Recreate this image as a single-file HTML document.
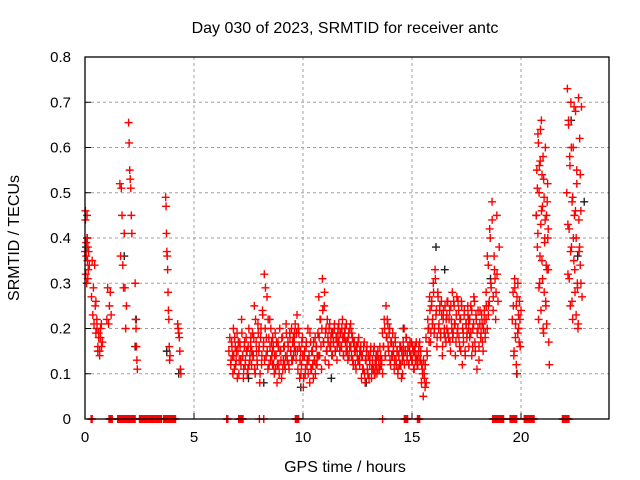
<!DOCTYPE html>
<html><head><meta charset="utf-8"><style>
body{margin:0;background:#fff}
svg{display:block;font-family:"Liberation Sans",sans-serif}
</style></head><body>
<svg id="chart" width="640" height="480">
<text x="345" y="33" text-anchor="middle" font-size="16">Day 030 of 2023, SRMTID for receiver antc</text>
<text x="345" y="472" text-anchor="middle" font-size="16">GPS time / hours</text>
<text x="19" y="238" text-anchor="middle" font-size="16" transform="rotate(-90 19 238)">SRMTID / TECUs</text>
<g id="grid"></g><g id="ticks"></g><g id="marks"></g>
<rect x="85" y="57" width="524" height="362" fill="none" stroke="#000" stroke-width="1.3"/>
</svg>
<script>
const xTicks=[0,5,10,15,20];
const yTicks=[0,0.1,0.2,0.3,0.4,0.5,0.6,0.7,0.8];
const yTickLabels=["0","0.1","0.2","0.3","0.4","0.5","0.6","0.7","0.8"];
const clusterStarts=[0.0,0.3,0.5,1.0,1.6,2.0,2.3,3.7,4.25,6.6,7.6,8.6,9.6,10.6,11.6,12.6,13.6,14.6,15.6,16.6,17.6,18.4,19.6,20.7,22.1,
 6.7,7.7,8.7,9.7,10.7,11.7,12.7,13.7,14.7,15.7,16.7,17.7,18.5,19.65,20.75,22.15,0.02,0.55];
const clusterEnds=[0.15,0.5,0.8,1.2,1.9,2.15,2.4,3.9,4.4,7.6,8.6,9.6,10.6,11.6,12.6,13.6,14.6,15.6,16.6,17.6,18.5,19.0,20.0,21.3,22.8,
 7.65,8.65,9.65,10.65,11.65,12.65,13.65,14.65,15.65,16.65,17.65,18.4,18.9,19.95,21.25,22.75,0.2,0.75];
const clusterValues=[
[0.37,0.46,0.32,0.39,0.30,0.45,0.35,0.38,0.33],
[0.27,0.35,0.23,0.29,0.21,0.34,0.25,0.26],
[0.19,0.22,0.15,0.18,0.14,0.20,0.16,0.17],
[0.22,0.29,0.21,0.25,0.28,0.23],
[0.52,0.36,0.51,0.45,0.34,0.29,0.41,0.29,0.2,0.25],
[0.655,0.61,0.55,0.53,0.51,0.45,0.41],
[0.30,0.22,0.20,0.16,0.13,0.11],
[0.49,0.47,0.41,0.37,0.36,0.33,0.28,0.24,0.22,0.16,0.13,0.14],
[0.21,0.2,0.19,0.18,0.15,0.11,0.1],
[0.15,0.18,0.12,0.17,0.14,0.2,0.11,0.16,0.13,0.19,0.15,0.1,0.17,0.13,0.22,0.14,0.09,0.16,0.12,0.18,0.15,0.11,0.2,0.13,0.17],
[0.16,0.12,0.19,0.14,0.25,0.1,0.17,0.13,0.21,0.15,0.08,0.18,0.12,0.24,0.16,0.32,0.2,0.14,0.27,0.11,0.18,0.22,0.13,0.17,0.15],
[0.12,0.16,0.1,0.19,0.14,0.08,0.17,0.12,0.2,0.15,0.09,0.18,0.13,0.16,0.11,0.21,0.14,0.17,0.12,0.19,0.15,0.2,0.13,0.18,0.16],
[0.17,0.21,0.13,0.23,0.11,0.19,0.09,0.15,0.12,0.18,0.07,0.14,0.1,0.16,0.12,0.2,0.13,0.08,0.17,0.11,0.15,0.09,0.13,0.18,0.12],
[0.16,0.12,0.19,0.27,0.14,0.22,0.11,0.31,0.17,0.25,0.13,0.2,0.15,0.18,0.12,0.21,0.16,0.19,0.14,0.17,0.2,0.15,0.18,0.13,0.19],
[0.17,0.21,0.15,0.19,0.16,0.22,0.14,0.18,0.2,0.15,0.17,0.13,0.19,0.16,0.21,0.14,0.18,0.12,0.17,0.15,0.11,0.16,0.13,0.18,0.14],
[0.12,0.15,0.09,0.14,0.11,0.17,0.08,0.13,0.16,0.1,0.14,0.12,0.15,0.09,0.13,0.11,0.16,0.12,0.14,0.1,0.15,0.13,0.11,0.14,0.12],
[0.13,0.19,0.16,0.22,0.14,0.25,0.18,0.21,0.15,0.2,0.12,0.17,0.14,0.16,0.11,0.18,0.13,0.15,0.1,0.14,0.12,0.16,0.09,0.13,0.15],
[0.17,0.2,0.15,0.18,0.13,0.16,0.12,0.15,0.14,0.17,0.13,0.15,0.11,0.16,0.14,0.13,0.12,0.15,0.17,0.13,0.08,0.11,0.05,0.1,0.07],
[0.12,0.18,0.15,0.22,0.2,0.27,0.17,0.25,0.21,0.3,0.19,0.33,0.23,0.16,0.28,0.2,0.24,0.18,0.26,0.14,0.22,0.19,0.25,0.17,0.23],
[0.2,0.26,0.18,0.24,0.15,0.22,0.28,0.19,0.25,0.21,0.17,0.27,0.2,0.24,0.16,0.22,0.26,0.12,0.19,0.23,0.15,0.21,0.18,0.25,0.2],
[0.22,0.18,0.25,0.14,0.2,0.27,0.17,0.23,0.11,0.2,0.16,0.24,0.19,0.21,0.15,0.22,0.18,0.25,0.2,0.23],
[0.28,0.36,0.25,0.42,0.3,0.48,0.27,0.33,0.22,0.45,0.26,0.38],
[0.22,0.28,0.14,0.31,0.18,0.25,0.1,0.3,0.2,0.26,0.16,0.24],
[0.45,0.55,0.38,0.63,0.22,0.5,0.3,0.57,0.43,0.66,0.35,0.47,0.2,0.53,0.28,0.4,0.6,0.25,0.45,0.33,0.52,0.42,0.17,0.12],
[0.5,0.73,0.32,0.65,0.42,0.58,0.25,0.7,0.38,0.48,0.22,0.6,0.35,0.45,0.28,0.68,0.4,0.55,0.3,0.2,0.71,0.37,0.62,0.54,0.46,0.69,0.27],
[0.13,0.16,0.1,0.14,0.18,0.12,0.15,0.09,0.17,0.13,0.16,0.12,0.19,0.14,0.11,0.17,0.13,0.15,0.1,0.16,0.12,0.14,0.18,0.15],
[0.14,0.18,0.11,0.22,0.15,0.12,0.19,0.16,0.1,0.2,0.14,0.23,0.17,0.13,0.29,0.18,0.15,0.22,0.12,0.16,0.2,0.14,0.18,0.12],
[0.14,0.11,0.17,0.12,0.16,0.1,0.15,0.13,0.18,0.11,0.16,0.12,0.14,0.19,0.13,0.16,0.11,0.18,0.15,0.13,0.17,0.14,0.19,0.15],
[0.19,0.15,0.2,0.16,0.13,0.1,0.17,0.14,0.09,0.15,0.11,0.17,0.13,0.1,0.14,0.19,0.11,0.15,0.12,0.17,0.13,0.1,0.16,0.14],
[0.14,0.18,0.22,0.16,0.2,0.24,0.17,0.28,0.19,0.15,0.22,0.17,0.2,0.16,0.18,0.14,0.19,0.17,0.21,0.15,0.18,0.16,0.2,0.17],
[0.19,0.16,0.2,0.18,0.14,0.19,0.17,0.21,0.15,0.18,0.14,0.2,0.16,0.19,0.13,0.17,0.15,0.12,0.16,0.14,0.17,0.13,0.15,0.16],
[0.14,0.11,0.16,0.1,0.13,0.15,0.11,0.14,0.09,0.13,0.16,0.11,0.12,0.15,0.1,0.13,0.12,0.14,0.11,0.13,0.16,0.12,0.13,0.1],
[0.16,0.2,0.14,0.18,0.22,0.16,0.19,0.13,0.17,0.14,0.19,0.15,0.13,0.17,0.12,0.15,0.11,0.14,0.16,0.12,0.15,0.1,0.14,0.12],
[0.15,0.18,0.14,0.16,0.12,0.17,0.14,0.13,0.16,0.11,0.15,0.13,0.17,0.12,0.14,0.16,0.13,0.15,0.12,0.1,0.13,0.09,0.12,0.08],
[0.14,0.2,0.17,0.24,0.19,0.26,0.22,0.28,0.2,0.31,0.24,0.18,0.27,0.21,0.25,0.19,0.23,0.16,0.24,0.2,0.18,0.22,0.26,0.19],
[0.22,0.17,0.25,0.2,0.18,0.26,0.21,0.14,0.23,0.19,0.26,0.18,0.22,0.15,0.25,0.2,0.17,0.24,0.14,0.21,0.19,0.23,0.16,0.22],
[0.19,0.24,0.16,0.21,0.26,0.15,0.22,0.19,0.24,0.13,0.21,0.18,0.23,0.17,0.2,0.24,0.19,0.22],
[0.34,0.26,0.4,0.29,0.44,0.24,0.36,0.31,0.28,0.32],
[0.25,0.15,0.29,0.21,0.12,0.27,0.19,0.23,0.17,0.22],
[0.51,0.41,0.61,0.29,0.56,0.36,0.64,0.24,0.46,0.54,0.31,0.58,0.19,0.49,0.39,0.44,0.26,0.34,0.21,0.48,0.4,0.33],
[0.43,0.66,0.31,0.56,0.37,0.6,0.26,0.49,0.4,0.69,0.33,0.46,0.23,0.52,0.29,0.21,0.44,0.38,0.34,0.3],
[0.44,0.36,0.4,0.31,0.37,0.34],
[0.2,0.16,0.19,0.15,0.18,0.21]
];
const blackHours=[0.05,0.1,1.8,2.3,2.35,3.75,4.3,7.5,8.2,9.9,11.3,12.9,13.3,14.6,16.1,16.5,18.6,19.8,20.7,22.3,22.6,22.9];
const blackValues=[0.38,0.4,0.36,0.16,0.22,0.15,0.1,0.09,0.08,0.07,0.09,0.08,0.1,0.2,0.38,0.33,0.31,0.1,0.45,0.66,0.36,0.48];
const zeroHours=[0.28,0.33,1.1,1.15,1.2,1.25,1.5,1.55,1.6,1.65,1.7,1.75,1.8,1.85,1.9,1.95,2.0,2.05,2.1,2.15,2.2,2.25,2.3,2.5,2.55,2.6,2.65,2.7,2.75,2.8,2.85,2.9,2.95,3.0,3.05,3.1,3.15,3.2,3.25,3.3,3.35,3.4,3.45,3.5,3.6,3.65,3.7,3.75,3.8,3.85,3.9,3.95,4.0,4.05,4.1,4.15,6.5,6.55,7.05,7.1,7.15,7.2,7.25,8.0,8.2,9.65,9.7,9.75,9.8,13.65,14.65,14.7,14.75,14.8,15.25,15.3,15.35,18.7,18.75,18.8,18.85,18.9,18.95,19.0,19.05,19.1,19.15,19.2,19.5,19.55,19.6,19.65,19.7,19.75,19.8,20.15,20.2,20.25,20.3,20.35,20.4,20.45,20.5,20.55,20.6,21.9,21.95,22.0,22.05,22.1,22.15,22.2];
const X=h=>85+h*21.8, Y=v=>419-v*452.5;
const NS="http://www.w3.org/2000/svg";
const grid=document.getElementById('grid'),ticks=document.getElementById('ticks'),marks=document.getElementById('marks');
function mk(tag,attrs,parent){const e=document.createElementNS(NS,tag);for(const k in attrs)e.setAttribute(k,attrs[k]);parent.appendChild(e);return e;}
xTicks.forEach(t=>{
 if(t>0){const g=mk('line',{x1:X(t),x2:X(t),y1:57,y2:419,stroke:'#a0a0a0','stroke-dasharray':'3,3'},grid);
 
 }
 const tk=mk('line',{x1:X(t),x2:X(t),y1:419,y2:413,stroke:'#000'},ticks);
 
 
 const l=mk('text',{x:X(t),y:442,'text-anchor':'middle','font-size':15},ticks);l.textContent=t;
 
 
});
yTicks.forEach((t,i)=>{
 if(t>0&&t<0.8){const g=mk('line',{x1:85,x2:609,y1:Y(t),y2:Y(t),stroke:'#a0a0a0','stroke-dasharray':'3,3'},grid);
 
 }
 const tk=mk('line',{x1:85,x2:91,y1:Y(t),y2:Y(t),stroke:'#000'},ticks);
 
 
 const l=mk('text',{x:71,y:Y(t)+5,'text-anchor':'end','font-size':15},ticks);l.textContent=yTickLabels[i];
 
 
});
function plus(h,v,color){
 const x=X(h),y=Y(v);
 const p=mk('path',{d:`M${x-4} ${y}H${x+4}M${x} ${y-4}V${y+4}`,stroke:color,'stroke-width':1.4,fill:'none'},marks);
 
 
}
blackHours.forEach((h,i)=>plus(h,blackValues[i],'#222'));
clusterValues.forEach((vals,c)=>{
 const a=clusterStarts[c],b=clusterEnds[c],n=vals.length;
 vals.forEach((v,i)=>plus(a+(b-a)*(n>1?i/(n-1):0),v,'#ff0000'));
});
zeroHours.forEach(h=>plus(h,0,'#ff0000'));
</script>
</body></html>
